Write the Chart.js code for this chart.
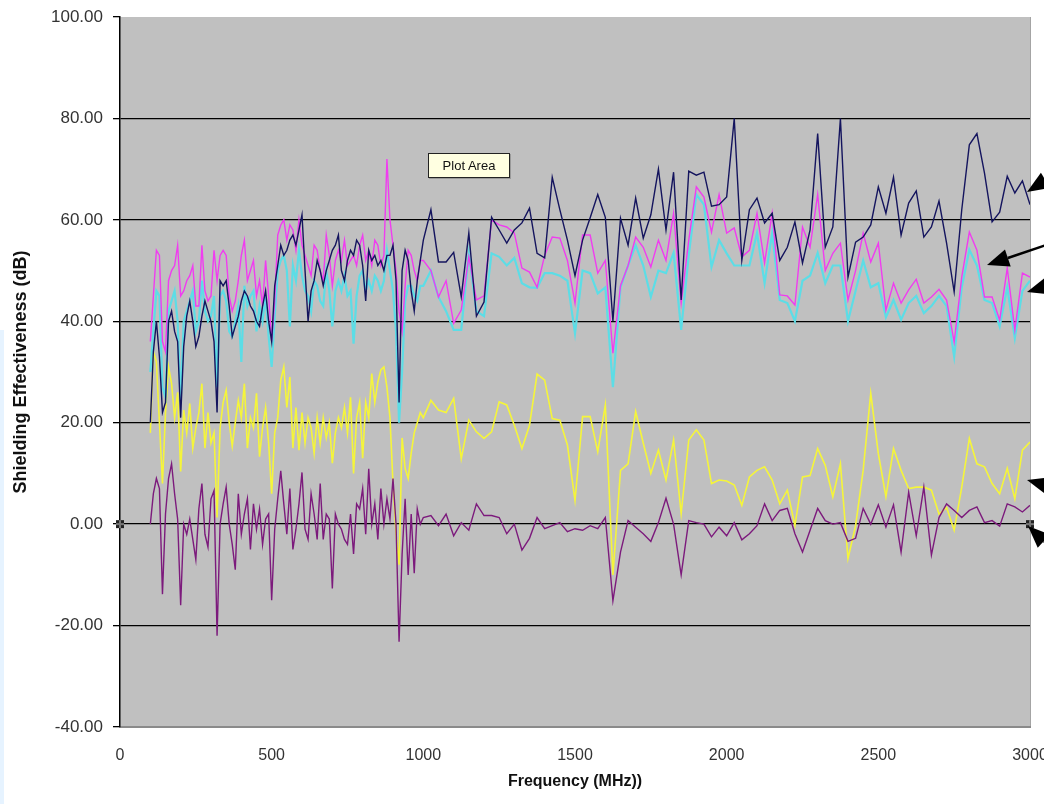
<!DOCTYPE html>
<html>
<head>
<meta charset="utf-8">
<title>Shielding Effectiveness</title>
<script src="https://cdn.jsdelivr.net/npm/chart.js@4.4.1/dist/chart.umd.min.js"></script>
<style>
  body { margin: 0; background: #fff; }
  #wrap { position: relative; width: 1044px; height: 804px; overflow: hidden; }
  #edge { position: absolute; left: 0; top: 330px; width: 4px; height: 474px; background: #e6f3ff; }
  #tip {
    position: absolute; left: 428px; top: 153px; width: 80px; height: 23px;
    background: #ffffe1; border: 1px solid #222; box-shadow: 1px 1px 0 #999;
    font: 13px "Liberation Sans", Arial, sans-serif; color: #111;
    line-height: 23px; text-align: center;
  }
</style>
</head>
<body>
<div id="wrap">
  <canvas id="myChart" width="1044" height="804"></canvas>
  <div id="edge"></div>
  <div id="tip">Plot Area</div>
</div>
<script>
// frequencies (MHz): 10 MHz steps below 1 GHz, 25 MHz steps above
const freqLow = [100,110,120,130,140,150,160,170,180,190,200,210,220,230,240,250,260,270,280,290,
  300,310,320,330,340,350,360,370,380,390,400,410,420,430,440,450,460,470,480,490,
  500,510,520,530,540,550,560,570,580,590,600,610,620,630,640,650,660,670,680,690,
  700,710,720,730,740,750,760,770,780,790,800,810,820,830,840,850,860,870,880,890,
  900,910,920,930,940,950,960,970,980,990];
const freqHigh = [1000,1025,1050,1075,1100,1125,1150,1175,1200,1225,1250,1275,1300,1325,1350,1375,
  1400,1425,1450,1475,1500,1525,1550,1575,1600,1625,1650,1675,1700,1725,1750,1775,
  1800,1825,1850,1875,1900,1925,1950,1975,2000,2025,2050,2075,2100,2125,2150,2175,
  2200,2225,2250,2275,2300,2325,2350,2375,2400,2425,2450,2475,2500,2525,2550,2575,
  2600,2625,2650,2675,2700,2725,2750,2775,2800,2825,2850,2875,2900,2925,2950,2975,3000];

const navyLow = [20,34,40,33,22,24,40,42,38,36, 21,35,41,44,40,35,37,41,44,42,
  40,36,22,48,47,48,43,37,39,41, 44,46,45,43,42,40,39,43,46,40,
  36,47,51,55,53,54,56,57,55,58, 61,50,40,46,48,52,50,47,50,52,
  54,55,57,50,48,52,54,53,56,55, 51,44,54,52,53,51,52,50,53,53,
  55,48,24,50,54,52,46,42,48,52];
const navyHigh = [56,62,51.7,51.7,53.6,44.8,57.4,41,43.8,60.5, 58,55.4,58,59.4,62.3,53.4,52.5,68.4,62,56,
  49,56,60.4,65,60.5,40,60.3,55,64.3,56.4, 61,70,58,69.4,44.2,69.6,68.8,69.4,62.7,63,
  64.5,80,52,62,64.3,59.4,61.3,52,54.6,59.6, 51.5,58,77,54.6,58.6,80,48.7,55.6,56.6,59,
  66.5,61.3,68.4,57,63.3,65.7,56.6,58.6,63.7,55.4, 45.8,62,74.8,77,69.2,59.6,61.5,68.6,65.3,67.7,
  63];

const magentaLow = [36,45,54,53,36,34,48,50,51,55, 45,46,48,49,51,43,43,55,46,44,
  45,54,48,53,54,53,45,42,44,48, 53,56,48,50,52,45,48,43,52,45,
  36,44,57,59,60,56,59,58,54,60, 55,53,51,49,55,54,50,48,57,53,
  47,52,54,52,56,51,52,53,51,55, 57,52,54,51,56,55,51,53,72,60,
  55,50,42,38,47,54,53,50,48,52];
const magentaHigh = [52,50,44.8,48,39.6,42.2,52.7,44.2,45,60, 59,58.6,57.4,50.5,49.7,46.7,53,56.6,56.4,52,
  43.6,57,57,49.5,52,33.7,47,51,56.6,54.6, 50.7,56,52,61.3,43.6,56,66.5,64.5,57.6,65,
  57.4,58.4,52.7,54,61.3,51.5,61.3,45.2,45,43.2, 58.6,54.6,65,50,53.4,55.4,44.2,50,57.4,51.7,
  55.4,42.2,47.5,43.6,46.2,48.3,43.6,44.8,46.3,44.2, 35.9,48.7,57.6,54,44.8,44.8,40.2,50.5,38.3,49.5,
  48.7];

const cyanLow = [30,38,46,45,27,25,42,44,46,40, 24,40,42,44,46,38,40,48,42,40,
  41,45,27,45,46,44,38,37,40,43, 32,47,43,45,46,38,43,40,45,37,
  31,41,50,52,53,50,39,51,48,54, 49,46,45,42,48,47,44,43,50,46,
  39,46,48,46,49,45,46,35.6,45,49, 50,46,48,46,49,48,46,48,54,50,
  46,38,20,30,44,47,47,45,44,47];
const cyanHigh = [47,50,44.8,42,38.3,38.3,53.4,42,41,53.4, 52.7,51,52.5,47.5,46.7,46.6,49.5,49.5,49,48,
  37.6,50,49.5,45.5,46.7,27,46.7,51,55,51, 44.8,50,49.5,53.5,38.3,53,65,63,50.7,56,
  53.4,51,51,51,57.4,47.5,57.4,44.2,43.6,40, 48,49,53.5,47.5,51,51,40,46,52,46.7,
  47.5,40.8,44.2,40.3,43.6,45,41.6,43,45,43, 33,46.7,54.1,51,44.2,43.6,39,46.7,36.7,46,
  48];

const yellowLow = [18,34,32,20,8,22,31,27.7,21,26, 10.4,22.5,18,23.8,15,19,22,27.7,15,22,
  16,18,1.3,19,24,26.4,20,15.4,20,24.4, 21,27.7,15,21,19,25.8,13.3,19,23,16,
  6,18,21,28.4,31,23,29,15,23,14.6, 22,16,21,19,14,21,16,21,17,20,
  12,18,21,19,23,18,25,10,21,24, 13,24,21,29.7,24,28,30.4,31,27,21,
  8,-2,-8,17,11,9,14,18,20,22];
const yellowHigh = [21,24.4,22.5,22,24.8,12.9,20.5,18.2,16.9,18.2, 24.1,23.5,19.5,14.9,19.5,29.6,28.4,20.8,20.5,15.6,
  4.7,21.2,21.2,14.3,23.5,-10,10.6,11.9,22.2,16, 10,14.6,8.7,16.6,2.1,16.6,18.6,16.6,8,8.7,
  8.5,7.7,3.7,9.3,10.6,11.3,8.7,4,6.7,-0.3, 9.3,9.6,14.9,11.6,5.4,11.9,-6.8,-0.3,10.6,25.8,
  13.9,5.4,14.9,10.6,7,7.3,7.3,6.7,2,3.3, -1.2,7.3,16.9,11.9,11.3,8,6,11,5,14.6,
  16.2];

const purpleLow = [0,6,9,7,-13.8,2,9,11.9,6,1, -16,0,-2,1,-3,-7,3,8,-2,-4.5,
  5,6.6,-22,0,4,7.3,0,-4,-9,6, -2,2,5,-5,4,-1,3,-4,1,2,
  -15,-1,5,10.5,4,-2,7,-5,-1,4, 10.2,-1,-3,6,2,-3,8,-3,2,1,
  -12.7,2,0,-1,-3,-4,2,-5.9,4,3, 7,-2,10.9,0,4,-3,7,0,5,1,
  9,0,-23.2,-6,5,-10,2,-9.7,3,0];
const purpleHigh = [1.3,1.7,-0.3,2,-2.3,0.3,-1.2,4,1.7,1.7, 1.3,-1.9,0,-5.1,-2.8,1.3,-0.9,-0.3,0.3,-1.5,
  -0.9,-1.2,-0.3,-0.9,1.3,-15.1,-5.5,0.7,-0.6,-1.9, -3.4,0.3,5.1,0,-10,0.7,0.3,0,-2.5,-0.6,
  -2.3,0.3,-3.1,-1.9,-0.3,4,0.7,2.7,3.1,-1.9, -5.5,-1.2,3.1,0.7,0,0.3,-3.4,-2.8,3.1,0,
  3.8,-0.6,3.8,-5.5,6.3,-2.3,7.3,-6.1,1.3,4, 2.7,1.3,2.7,3.4,0.3,0.7,-0.4,4,3.4,2.4,
  3.7];

const xTicks = [0, 500, 1000, 1500, 2000, 2500, 3000];
const yTicks = [-40, -20, 0, 20, 40, 60, 80, 100];

const freqs = freqLow.concat(freqHigh);

function toPoints(low, high) {
    return low.concat(high).map((v, i) => ({ x: freqs[i], y: v }));
}

function lineSet(label, low, high, color, width) {
    return {
        label: label,
        data: toPoints(low, high),
        borderColor: color,
        borderWidth: width,
        pointRadius: 0,
        tension: 0,
        fill: false
    };
}

// grey plot area + thin right edge
const plotBack = {
    id: 'plotBack',
    beforeDraw(chart) {
        const { ctx, chartArea: a } = chart;
        ctx.save();
        ctx.fillStyle = '#c0c0c0';
        ctx.fillRect(a.left, a.top, a.right - a.left, a.bottom - a.top);
        ctx.strokeStyle = '#a4a4a4';
        ctx.lineWidth = 1;
        ctx.beginPath();
        ctx.moveTo(a.right + 0.5, a.top);
        ctx.lineTo(a.right + 0.5, a.bottom);
        ctx.stroke();
        ctx.restore();
    }
};

// selection handles on the zero line and the callout arrows on the right
const marks = {
    id: 'marks',
    afterDraw(chart) {
        const { ctx, chartArea: a } = chart;
        const y0 = chart.scales.y.getPixelForValue(0);
        ctx.save();
        [a.left, a.right].forEach(x => {
            ctx.fillStyle = '#222';
            ctx.fillRect(x - 4, y0 - 4, 8, 8);
            ctx.fillStyle = '#777';
            ctx.fillRect(x - 1, y0 - 4, 2, 8);
            ctx.fillRect(x - 4, y0 - 1, 8, 2);
        });

        const arrows = [
            [1027, 192, 1075, 162],
            [987, 265, 1070, 237],
            [1027, 292, 1075, 278],
            [1027, 480, 1075, 493],
            [1028, 526, 1070, 566]
        ];
        ctx.fillStyle = '#000';
        ctx.strokeStyle = '#000';
        ctx.lineWidth = 2.5;
        arrows.forEach(([tx, ty, fx, fy]) => {
            const ang = Math.atan2(ty - fy, tx - fx);
            const len = 22, half = 9;
            const bx = tx - Math.cos(ang) * len, by = ty - Math.sin(ang) * len;
            ctx.beginPath();
            ctx.moveTo(fx, fy);
            ctx.lineTo(bx, by);
            ctx.stroke();
            ctx.beginPath();
            ctx.moveTo(tx, ty);
            ctx.lineTo(bx + Math.sin(ang) * half, by - Math.cos(ang) * half);
            ctx.lineTo(bx - Math.sin(ang) * half, by + Math.cos(ang) * half);
            ctx.closePath();
            ctx.fill();
        });
        ctx.restore();
    }
};

const yTickFont = { family: "'Liberation Sans', Arial, sans-serif", size: 17 };
const xTickFont = { family: "'Liberation Sans', Arial, sans-serif", size: 16 };

const graph = document.getElementById('myChart').getContext('2d');
let myChart = new Chart(graph, {
    type: 'line',
    data: {
        datasets: [
            lineSet('Purple', purpleLow, purpleHigh, '#7c1a7c', 1.4),
            lineSet('Navy', navyLow, navyHigh, '#14145e', 1.4),
            lineSet('Magenta', magentaLow, magentaHigh, '#f03cf0', 1.4),
            lineSet('Cyan', cyanLow, cyanHigh, '#5cdde6', 2.2),
            lineSet('Yellow', yellowLow, yellowHigh, '#f5f53a', 1.6)
        ]
    },
    options: {
        responsive: false,
        animation: false,
        events: [],
        layout: { padding: { top: 17, right: 14, left: 0, bottom: 0 } },
        plugins: {
            legend: { display: false },
            tooltip: { enabled: false }
        },
        scales: {
            x: {
                type: 'linear',
                min: 0,
                max: 3000,
                afterBuildTicks: scale => {
                    scale.ticks = xTicks.map(v => ({ value: v }));
                },
                grid: { display: false, drawTicks: false },
                border: { display: true, color: '#8a8a8a', width: 2 },
                ticks: {
                    padding: 19,
                    color: '#333',
                    font: xTickFont,
                    maxRotation: 0,
                    callback: v => String(v)
                },
                title: {
                    display: true,
                    text: 'Frequency (MHz))',
                    color: '#111',
                    font: { family: "'Liberation Sans', Arial, sans-serif", size: 16, weight: 'bold' },
                    padding: { top: 0, bottom: 13 }
                },
                afterFit: scale => {
                    scale.height = 77;
                    scale.paddingLeft = 0;
                    scale.paddingRight = 0;
                }
            },
            y: {
                min: -40,
                max: 100,
                afterBuildTicks: scale => {
                    scale.ticks = yTicks.map(v => ({ value: v }));
                },
                grid: {
                    color: c => c.tick.value === 100 ? 'rgba(0,0,0,0)' : (c.tick.value === -40 ? '#8a8a8a' : '#000'),
                    lineWidth: 1.3,
                    tickLength: 7,
                    tickColor: '#000'
                },
                border: { color: '#000', width: 1.5 },
                ticks: {
                    padding: 10,
                    color: '#333',
                    font: yTickFont,
                    callback: v => v.toFixed(2)
                },
                title: {
                    display: true,
                    text: 'Shielding Effectiveness (dB)',
                    color: '#111',
                    font: { family: "'Liberation Sans', Arial, sans-serif", size: 18, weight: 'bold' },
                    padding: { top: 10, bottom: 0 }
                },
                afterFit: scale => {
                    scale.width = 120;
                    scale.paddingTop = 0;
                    scale.paddingBottom = 0;
                }
            }
        }
    },
    plugins: [plotBack, marks]
});
</script>
</body>
</html>
